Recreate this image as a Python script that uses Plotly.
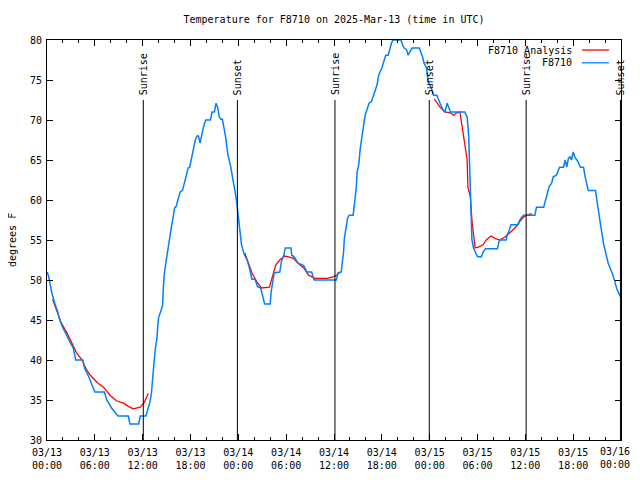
import plotly.graph_objects as go
from datetime import datetime, timedelta

# ---- data (hours since 2025-03-13 00:00 UTC, degrees F) ----
obs_hours = [0.0, 0.2, 0.6, 0.9, 1.0, 1.3, 1.6, 2.0, 2.5, 3.0, 3.3, 3.6, 4.5, 4.7, 5.2, 5.6, 6.0, 7.2, 7.5, 8.1,
             8.9, 10.2, 10.4, 11.5, 11.7, 12.4, 12.9, 13.1, 13.3, 13.4, 13.6, 13.8, 13.9, 14.0, 14.3, 14.5, 14.6,
             14.7, 14.9, 15.1, 15.3, 15.4, 15.6, 15.8, 16.0, 16.2, 16.4, 16.7, 17.0, 17.2, 17.4, 17.7, 17.9, 18.2,
             18.4, 18.6, 18.8, 19.0, 19.2, 19.4, 19.6, 19.9, 20.5, 20.7, 21.0, 21.2, 21.4, 21.6, 21.8, 22.0, 22.2,
             22.4, 22.5, 22.7, 23.0, 23.2, 23.4, 23.6, 23.8, 24.0, 24.2, 24.4, 24.7, 25.1, 25.4, 25.7, 26.1, 26.4,
             26.8, 27.0, 27.3, 28.0, 28.1, 28.3, 28.5, 29.2, 29.4, 29.7, 29.9, 30.6, 30.7, 31.0, 31.5, 32.2, 32.6,
             33.2, 33.5, 36.3, 36.5, 36.9, 37.1, 37.2, 37.3, 37.5, 37.7, 37.9, 38.4, 38.6, 38.8, 38.9, 39.1, 39.3,
             39.5, 39.7, 39.9, 40.1, 40.4, 40.7, 40.9, 41.1, 41.4, 41.6, 41.8, 42.0, 42.3, 42.5, 42.8, 43.0, 43.2,
             43.4, 44.4, 44.6, 44.8, 45.1, 45.3, 45.5, 45.8, 46.7, 46.9, 47.1, 47.3, 47.6, 47.7, 47.9, 48.2, 48.5,
             48.9, 49.1, 49.3, 49.7, 49.9, 50.2, 50.4, 50.6, 52.4, 52.7, 52.9, 53.0, 53.1, 53.2, 53.3, 53.5, 53.8,
             54.0, 54.5, 54.7, 55.0, 56.5, 56.7, 56.8, 57.6, 57.7, 57.9, 58.2, 59.1, 59.3, 59.6, 59.8, 61.2, 61.4,
             62.3, 62.5, 62.7, 63.0, 63.3, 63.5, 63.9, 64.3, 64.8, 65.0, 65.2, 65.4, 65.6, 65.8, 66.0, 66.2, 66.6,
             66.9, 67.3, 67.5, 67.7, 67.9, 68.8, 69.0, 69.2, 69.4, 69.6, 69.8, 70.1, 70.4, 71.0, 71.5, 72.0]
obs_temps = [51.0, 50.5, 48.4, 47.1, 47.0, 46.2, 45.0, 44.0, 42.9, 42.0, 41.5, 40.0, 40.0, 39.0, 38.0, 37.1, 36.0, 36.0,
             35.0, 34.0, 33.0, 33.0, 32.0, 32.0, 33.0, 33.0, 34.7, 35.9, 37.7, 39.4, 41.5, 42.8, 44.4, 45.3, 46.2,
             46.8, 49.1, 50.6, 52.1, 53.5, 54.7, 55.4, 56.6, 57.7, 59.0, 59.2, 60.0, 61.0, 61.2, 62.1, 62.9, 64.0,
             64.1, 65.6, 66.6, 67.5, 68.0, 68.0, 67.1, 68.1, 69.0, 70.0, 70.0, 71.0, 71.0, 72.1, 71.6, 70.4, 70.1,
             70.1, 69.1, 67.9, 67.1, 65.6, 64.4, 63.4, 62.3, 61.0, 59.7, 57.7, 56.2, 54.4, 53.3, 52.5, 51.5, 50.1,
             50.1, 49.2, 49.0, 48.1, 47.0, 47.0, 48.4, 49.7, 50.9, 51.0, 52.3, 53.1, 54.0, 54.0, 53.1, 52.9, 52.1,
             51.8, 51.0, 51.0, 50.0, 50.0, 50.9, 51.0, 52.3, 53.5, 55.2, 56.6, 57.7, 58.1, 58.1, 59.8, 61.6, 63.5,
             64.4, 66.5, 68.1, 69.6, 70.6, 71.2, 72.1, 72.3, 72.9, 73.7, 74.4, 75.6, 76.0, 76.5, 77.5, 78.1, 78.1,
             79.0, 79.6, 80.0, 80.0, 79.4, 79.0, 78.8, 78.1, 78.5, 79.0, 79.0, 78.5, 77.9, 77.1, 76.5, 75.6, 74.6,
             74.0, 73.1, 73.1, 72.5, 72.1, 71.2, 71.0, 72.1, 71.5, 71.0, 71.0, 70.4, 67.9, 65.0, 60.9, 57.5, 55.0,
             54.0, 53.4, 52.9, 52.9, 53.5, 53.9, 53.9, 54.8, 55.0, 55.0, 55.6, 56.0, 56.9, 56.9, 57.5, 57.9, 58.1,
             58.1, 59.1, 59.1, 60.0, 60.6, 61.7, 62.1, 62.9, 63.1, 64.1, 64.1, 65.0, 64.1, 65.2, 65.4, 65.0, 66.0,
             65.4, 64.8, 64.1, 64.1, 62.9, 62.1, 61.2, 61.2, 59.6, 58.5, 57.1, 55.9, 54.6, 53.3, 52.1, 50.6, 48.8,
             47.8]

ana_hours = [0.7, 1.2, 1.8, 2.5, 3.1, 3.7, 4.4, 5.0, 5.6, 6.4, 7.1, 7.9, 8.7, 9.6, 10.2, 10.8, 11.7, 12.2, 12.7, None,
             24.8, 25.3, 25.7, 26.3, 26.9, 27.9, 28.2, 28.7, 29.2, 29.8, 30.3, 30.9, 31.5, 32.2, 32.8, 33.6, 35.1,
             35.9, 36.3, 36.8, None,
             48.6, 49.3, 49.9, 50.6, 51.0, 51.4, 51.8, 52.0, 52.2, 52.4, 52.7, 52.8, 53.1, 53.3, 53.5, 53.7, 54.1,
             54.7, 55.1, 55.7, 56.2, 56.8, 57.5, 58.1, 58.7, 59.3, 59.8, 60.2, 60.8]
ana_temps = [47.6, 46.2, 44.6, 43.4, 42.1, 40.9, 40.0, 38.7, 37.9, 37.1, 36.6, 35.6, 34.9, 34.6, 34.2, 33.9, 34.1, 34.7,
             35.8, None,
             53.4, 52.1, 50.9, 49.8, 49.0, 49.1, 50.2, 51.9, 52.5, 53.0, 52.9, 52.7, 52.1, 51.5, 50.6, 50.2, 50.2,
             50.4, 50.6, 51.0, None,
             72.6, 71.6, 71.0, 70.9, 70.6, 70.9, 71.0, 69.6, 67.9, 66.6, 65.0, 61.6, 60.4, 57.5, 55.9, 54.0, 54.1,
             54.4, 55.0, 55.5, 55.2, 55.0, 55.4, 55.9, 56.5, 57.3, 57.9, 58.1, 58.3]

event_labels = ["Sunrise", "Sunset", "Sunrise", "Sunset", "Sunrise", "Sunset"]
event_hours = [12.08, 23.88, 36.12, 47.95, 60.1, 71.93]

tick_hours = [0, 6, 12, 18, 24, 30, 36, 42, 48, 54, 60, 66, 72]
tick_dates = ["03/13", "03/13", "03/13", "03/13", "03/14", "03/14", "03/14", "03/14",
              "03/15", "03/15", "03/15", "03/15", "03/16"]
tick_times = ["00:00", "06:00", "12:00", "18:00", "00:00", "06:00", "12:00", "18:00",
              "00:00", "06:00", "12:00", "18:00", "00:00"]

series_names = ["F8710 Analysis", "F8710"]
series_colors = ["#ff0000", "#0080ff"]
title_text = "Temperature for F8710 on 2025-Mar-13 (time in UTC)"
y_title = "degrees F"

base = datetime(2025, 3, 13)
def to_time(h):
    return None if h is None else base + timedelta(hours=h)

FONT = "DejaVu Sans Mono"
FS = 10
# the page body has an 8px margin; compensate so the chart lands where the reference is
OFF = 8
W, H = 640 - OFF, 480 - 2 * OFF

# tick labels; the last one is drawn as a right-anchored annotation so it stays inside the window
tick_text = [f"{d}<br>{t}" for d, t in zip(tick_dates, tick_times)]
last_label = tick_text[-1]
tick_text[-1] = ""

fig = go.Figure()
fig.add_trace(go.Scatter(x=[to_time(h) for h in ana_hours], y=ana_temps, mode="lines",
                         line=dict(color=series_colors[0], width=1.3), name=series_names[0],
                         connectgaps=False, showlegend=False))
fig.add_trace(go.Scatter(x=[to_time(h) for h in obs_hours], y=obs_temps, mode="lines",
                         line=dict(color=series_colors[1], width=1.5), name=series_names[1],
                         showlegend=False))

# Sunrise / sunset markers
for lab, h in zip(event_labels, event_hours):
    t = to_time(h)
    fig.add_shape(type="line", xref="x", yref="paper", x0=t, x1=t, y0=0, y1=0.85,
                  line=dict(color="black", width=1))
    fig.add_annotation(x=t, y=0.85, xref="x", yref="paper", text=lab, textangle=-90,
                       showarrow=False, xanchor="center", yanchor="bottom", yshift=3,
                       font=dict(family=FONT, size=FS, color="black"))

# last x tick label
fig.add_annotation(x=to_time(tick_hours[-1]), y=0, xref="x", yref="paper", text=last_label,
                   showarrow=False, xanchor="right", yanchor="top", xshift=11, yshift=-4,
                   align="center", font=dict(family=FONT, size=FS, color="black"))

# legend drawn gnuplot-style (text then sample)
leg_y = [0.975, 0.943]
for name, col, yy in zip(series_names, series_colors, leg_y):
    fig.add_annotation(x=0.918, y=yy, xref="paper", yref="paper", text=name, showarrow=False,
                       xanchor="right", yanchor="middle", font=dict(family=FONT, size=FS, color="black"))
    fig.add_shape(type="line", xref="paper", yref="paper", x0=0.932, x1=0.979, y0=yy, y1=yy,
                  line=dict(color=col, width=1.3))

# y axis title
fig.add_annotation(x=0, y=0.5, xref="paper", yref="paper", xshift=-35, text=y_title, textangle=-90,
                   showarrow=False, xanchor="center", yanchor="middle",
                   font=dict(family=FONT, size=FS, color="black"))

fig.update_layout(
    width=W, height=H,
    margin=dict(l=47 - OFF, r=W - (621 - OFF), t=40 - OFF, b=H - (440 - OFF), autoexpand=False),
    paper_bgcolor="white", plot_bgcolor="white",
    title=dict(text=title_text, x=0.5, xref="paper", y=1 - (19 - OFF) / H, yref="container",
               xanchor="center", yanchor="middle", font=dict(family=FONT, size=FS, color="black")),
    font=dict(family=FONT, size=FS, color="black"),
    showlegend=False,
)
fig.update_xaxes(
    type="date", range=[base, base + timedelta(hours=72)], automargin=False,
    tickmode="array", tickvals=[to_time(h) for h in tick_hours], ticktext=tick_text,
    ticks="inside", ticklen=6, tickcolor="black", ticklabelstandoff=3, ticklabeloverflow="allow",
    minor=dict(dtick=2 * 3600 * 1000, tick0=base, ticks="inside", ticklen=3, tickcolor="black",
               showgrid=False),
    showline=True, linecolor="black", linewidth=1, mirror="allticks", showgrid=False, zeroline=False,
    tickfont=dict(family=FONT, size=FS),
)
fig.update_yaxes(
    range=[30, 80], dtick=5, ticks="inside", ticklen=6, tickcolor="black", automargin=False,
    ticklabelstandoff=2,
    showline=True, linecolor="black", linewidth=1, mirror="allticks", showgrid=False, zeroline=False,
    tickfont=dict(family=FONT, size=FS),
)

fig.write_html("out.html")
